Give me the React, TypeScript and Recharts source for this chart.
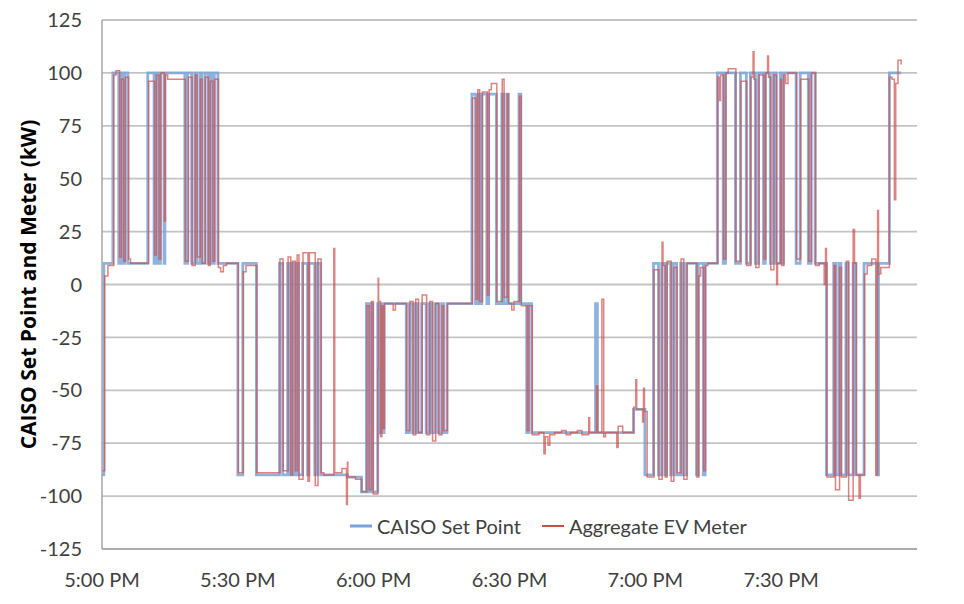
import React from "react";
import { LineChart, Line, XAxis, YAxis, CartesianGrid, Legend } from "recharts";

// Minutes after 5:00 PM and kW values
const setPointMinutes = [
  0, 0.4, 2.4, 3.7, 4.2, 4.6, 5.0, 5.7,
  10.1, 11.5, 11.9, 12.5, 12.9, 13.7, 13.9,
  18.3, 18.9, 19.8, 20.5, 20.9, 21.6, 22.0, 22.7, 23.4, 23.8, 24.4, 24.8, 25.6,
  30.0, 31.1, 34.1,
  39.2, 39.9, 41.0, 41.6, 42.0, 42.6, 43.0, 43.4, 44.3, 45.4, 45.7, 47.0, 47.6, 48.3,
  54.2, 57.3, 58.4, 58.9, 59.4, 59.8, 60.9, 61.4, 61.7, 62.0, 62.3,
  67.2, 67.9, 68.6, 69.2, 69.8, 70.6, 71.6, 72.3, 72.9, 73.6, 74.3, 75.0, 75.4, 76.2,
  81.7, 82.5, 82.9, 83.3, 83.9, 85.0, 85.4, 87.1, 88.3, 88.7, 89.4, 89.7, 92.1, 92.5,
  93.8, 94.2, 94.9, 109.0, 109.4, 117.4, 119.9,
  121.8, 122.9, 123.6, 124.3, 124.7, 125.6, 126.2, 126.9, 127.8, 128.4, 129.1, 131.3, 131.7, 132.8, 133.2,
  135.9, 137.2, 137.7, 139.9, 141.0, 142.3, 143.2, 144.3, 145.0, 146.1, 146.5, 147.6, 148.3, 148.9, 149.8, 150.0, 150.5, 153.3, 154.2, 156.0, 156.6, 157.5,
  160.0, 161.6, 162.1, 162.8, 163.2, 164.3, 164.8, 165.9, 166.5, 168.3, 171.2, 171.5, 173.9, 176.5,
];
const setPointKW = [
  -90, 10, 100, 10, 100, 10, 100, 10,
  100, 10, 100, 10, 100, 10, 100,
  10, 100, 10, 100, 10, 100, 10, 100, 10, 100, 10, 100, 10,
  -90, 10, -90,
  10, -90, 10, -90, 10, -90, 10, -90, 10, -90, 10, -90, 10, -90,
  -91, -98, -9, -98, -9, -98, -9, -70, -9, -70, -9,
  -70, -9, -70, -9, -70, -9, -70, -9, -70, -9, -70, -9, -70, -9,
  90, -9, 90, -9, 90, -9, 90, -9, 90, -9, 90, -9, 90, -9,
  -70, -9, -70, -9, -70, -59, -90,
  10, -90, 10, -90, 10, -90, 10, -90, 10, -90, 10, -90, 10, -90, 10,
  100, 10, 100, 10, 100, 10, 100, 10, 100, 10, 100, 10, 100, 10, 100, 10, 100, 10, 100, 10, 100, 10,
  -90, 10, -90, 10, -90, 10, -90, 10, -90, 10, -90, 10, 100, 100,
];

const meterMinutes = [
  0, 0.6, 1.3, 2.6, 3.1, 3.9, 4.3, 4.8, 5.2, 5.9, 6.3,
  10.3, 11.6, 12.0, 12.6, 13.0, 13.8, 14.0, 14.5,
  18.4, 19.1, 19.9, 20.6, 21.0, 21.7, 22.1, 22.8, 23.5, 23.9, 24.5, 24.9, 25.7, 26.2, 26.8, 27.5,
  30.1, 31.2, 31.8, 34.2,
  39.3, 40.0, 41.1, 41.7, 42.1, 42.7, 43.1, 43.5, 44.4, 45.5, 45.8, 47.1, 47.7, 48.4, 49.0,
  51.2, 51.4, 53.0, 54.0, 54.2, 54.3, 56.0, 57.4,
  58.5, 59.0, 59.5, 59.9, 60.9, 61.0, 61.1, 61.5, 61.8, 62.1, 62.4, 64.3, 64.8,
  67.3, 68.0, 68.7, 69.3, 69.9, 70.7, 71.7, 72.4, 73.0, 73.7, 74.4, 75.1, 75.5, 76.3,
  81.8, 82.6, 83.0, 83.4, 84.0, 85.1, 85.5, 86.0, 87.2, 88.4, 88.8, 89.5, 89.8, 90.5, 91.0, 92.2, 92.6,
  93.9, 94.3, 95.0, 96.5, 97.6, 97.9, 98.5, 98.9, 100.0, 101.5, 102.5, 103.5, 105.0, 106.0, 107.5, 107.7, 109.2, 109.5, 110.4, 110.8, 111.2, 113.7, 114.0, 115.0,
  117.4, 117.9, 118.1, 119.4, 119.6, 119.8, 120.4,
  121.9, 123.0, 123.7, 123.9, 124.4, 124.8, 125.7, 126.3, 127.0, 127.9, 128.5, 129.2, 131.4, 131.8, 132.2, 132.9, 133.3, 133.8,
  136.0, 136.4, 136.6, 137.3, 137.8, 138.3, 140.0, 141.1, 142.4, 143.3, 143.8, 144.0, 144.4, 145.1, 146.2, 146.6, 147.0, 147.2, 147.7, 148.4, 149.0, 149.2, 149.9, 150.1, 150.6, 151.0, 151.5, 153.4, 154.3, 156.1, 156.7, 157.6, 158.4, 159.5, 159.8, 160.0,
  160.1, 161.7, 162.0, 162.9, 163.3, 164.4, 164.9, 165.9, 166.2, 166.6, 167.2, 167.5, 168.4, 169.0, 170.0, 170.9, 171.3, 171.5, 172.0, 173.9, 174.5, 175.0, 175.3, 175.8, 176.5,
];
const meterKW = [
  -88, 4, 9, 99, 101, 13, 97, 11, 98, 12, 10,
  96, 14, 99, 12, 100, 30, 99, 97,
  11, 98, 9, 99, 13, 97, 10, 98, 9, 96, 11, 97, 8, 6, 9, 10,
  -89, 6, 9, -89,
  12, -88, 13, -90, 11, -88, 14, -92, 15, -93, 15, -95, 12, -89, -90,
  17, -89, -87, -104, -84, -91, -92, -98,
  -10, -97, -8, -99, -40, 3, -8, -72, -10, -68, -9, -12, -9,
  -69, -8, -71, -7, -70, -5, -71, -8, -74, -9, -71, -10, -69, -9,
  88, -7, 92, -8, 91, -5, 92, 95, -8, 97, -6, 90, -9, -12, -8, 89, -10,
  -69, -10, -71, -70, -80, -72, -76, -71, -70, -69, -71, -70, -69, -71, -63, -70, -48, -70, -7, -72, -70, -77, -67, -70,
  -58, -45, -59, -65, -49, -60, -91,
  7, -92, 20, 9, -91, 11, -93, 8, -89, 12, -92, 10, -91, 4, 8, -88, 9, 10,
  98, 87, 99, 12, 100, 102, 11, 96, 9, 98, 110, 97, 8, 99, 12, 100, 108, 98, 7, 99, 0, 10, 97, 9, 99, 95, 100, 12, 97, 11, 100, 9, 10, 0, 17, 10,
  -91, 9, -97, 8, -91, 11, -102, 26, 10, -90, -101, -90, 5, 9, 12, -90, 35, 5, 8, 98, 97, 40, 95, 106, 104,
];

const xTicks = [0, 30, 60, 90, 120, 150];
const yTicks = [-125, -100, -75, -50, -25, 0, 25, 50, 75, 100, 125];

const setPointData = setPointMinutes.map((t, i) => ({ t, v: setPointKW[i] }));
const meterData = meterMinutes.map((t, i) => ({ t, v: meterKW[i] }));

const FONT = "Lato, 'Open Sans', sans-serif";
const BLUE = "#7BA3D8";
const RED = "#CF4E49";

const fmtTime = (m: number) => {
  const h = 5 + Math.floor(m / 60);
  const mm = Math.round(m % 60);
  return `${h}:${mm.toString().padStart(2, "0")} PM`;
};

const renderLegend = () => (
  <div style={{ display: "flex", alignItems: "center", fontFamily: FONT, fontSize: 20, color: "#404040", whiteSpace: "nowrap" }}>
    <svg width={22} height={6}><line x1={0} y1={3} x2={22} y2={3} stroke={BLUE} strokeWidth={3} /></svg>
    <span style={{ marginLeft: 5 }}>CAISO Set Point</span>
    <svg width={22} height={6} style={{ marginLeft: 21 }}><line x1={0} y1={3} x2={22} y2={3} stroke={RED} strokeWidth={2} /></svg>
    <span style={{ marginLeft: 5 }}>Aggregate EV Meter</span>
  </div>
);

export default function App() {
  return (
    <LineChart width={940} height={590} margin={{ top: 12, right: 31, left: 0, bottom: 0 }}>
      <CartesianGrid horizontal vertical={false} stroke="#C4C4C4" strokeWidth={1.8} />
      <XAxis
        dataKey="t"
        type="number"
        domain={[0, 180]}
        ticks={xTicks}
        tickFormatter={fmtTime}
        allowDuplicatedCategory={false}
        height={49}
        tickLine={false}
        tickSize={0}
        tickMargin={24}
        axisLine={{ stroke: "#A6A6A6", strokeWidth: 1.5 }}
        tick={{ fill: "#404040", fontSize: 20, fontFamily: FONT }}
      />
      <YAxis
        type="number"
        domain={[-125, 125]}
        ticks={yTicks}
        width={94}
        tickLine={false}
        tickSize={0}
        tickMargin={20}
        axisLine={{ stroke: "#A6A6A6", strokeWidth: 1.5 }}
        tick={{ fill: "#404040", fontSize: 20, fontFamily: FONT }}
        label={{
          value: "CAISO Set Point and Meter (kW)",
          angle: -90,
          position: "center",
          dx: -26,
          style: { fill: "#000", fontSize: 21, fontWeight: 700, fontFamily: "'Open Sans', sans-serif", textAnchor: "middle" },
        }}
      />
      <Legend
        content={renderLegend}
        layout="horizontal"
        verticalAlign="middle"
        align="center"
        wrapperStyle={{ left: 342, top: 506, width: "auto", height: "auto" }}
      />
      <Line
        data={setPointData}
        dataKey="v"
        name="CAISO Set Point"
        type="stepAfter"
        stroke={BLUE}
        strokeWidth={2.8}
        strokeOpacity={0.85}
        dot={false}
        isAnimationActive={false}
      />
      <Line
        data={meterData}
        dataKey="v"
        name="Aggregate EV Meter"
        type="stepAfter"
        stroke={RED}
        strokeWidth={1.5}
        strokeOpacity={0.7}
        dot={false}
        isAnimationActive={false}
      />
    </LineChart>
  );
}
